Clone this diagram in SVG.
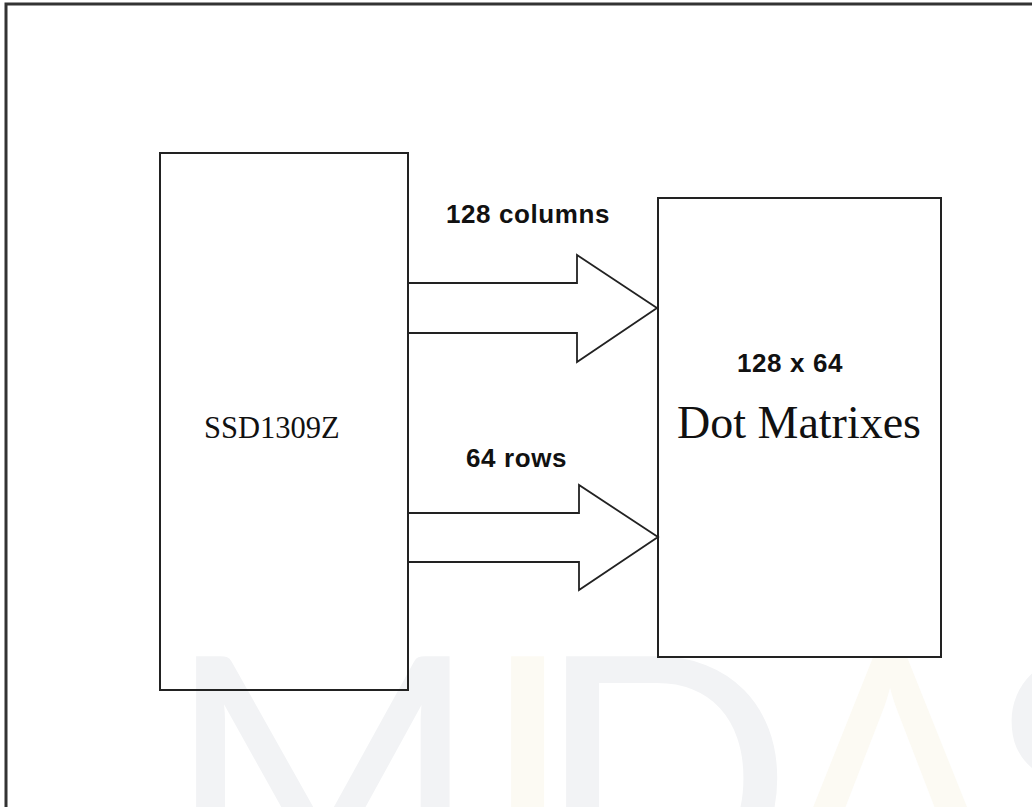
<svg xmlns="http://www.w3.org/2000/svg" width="1032" height="807" viewBox="0 0 1032 807">
<style>
.box{fill:none;stroke:#222;stroke-width:2}
.arrow{fill:#fff;stroke:#222;stroke-width:1.8;stroke-linejoin:miter}
.lbl{font-family:"Liberation Sans",Arial,sans-serif;font-weight:bold;font-size:26px;letter-spacing:0.6px;fill:#111}
.serif{font-family:"Liberation Serif","Times New Roman",serif;fill:#111}
.wm{font-family:Lato,"Open Sans",sans-serif;font-size:340px;font-weight:normal}
</style>
<rect width="1032" height="807" fill="#fff"/>
<g id="watermark">
<text class="wm" y="900"><tspan x="165" fill="#f2f3f5">M</tspan><tspan x="480" fill="#fcfaf3">I</tspan><tspan x="535" fill="#f2f3f5">D</tspan><tspan x="775" fill="#fcfaf3">A</tspan><tspan x="990" fill="#f2f3f5">S</tspan></text>
</g>
<path d="M6,807 V4 H1032" fill="none" stroke="#333" stroke-width="3"/>
<g id="connectors">
<path class="arrow" d="M408,283 H577 V255 L657,308 L577,362 V333 H408"/>
<path class="arrow" d="M408,513 H579 V485 L658,537 L579,590 V562 H408"/>
<text class="lbl" x="446" y="223">128 columns</text>
<text class="lbl" x="466" y="467">64 rows</text>
</g>
<g id="ssd1309z">
<rect class="box" x="160" y="153" width="248" height="537"/>
<text class="serif" x="204" y="438" font-size="30.5">SSD1309Z</text>
</g>
<g id="dot-matrix">
<rect class="box" x="658" y="198" width="283" height="459"/>
<text class="lbl" x="737" y="372">128 x 64</text>
<text class="serif" x="677" y="438" font-size="46">Dot Matrixes</text>
</g>
</svg>
